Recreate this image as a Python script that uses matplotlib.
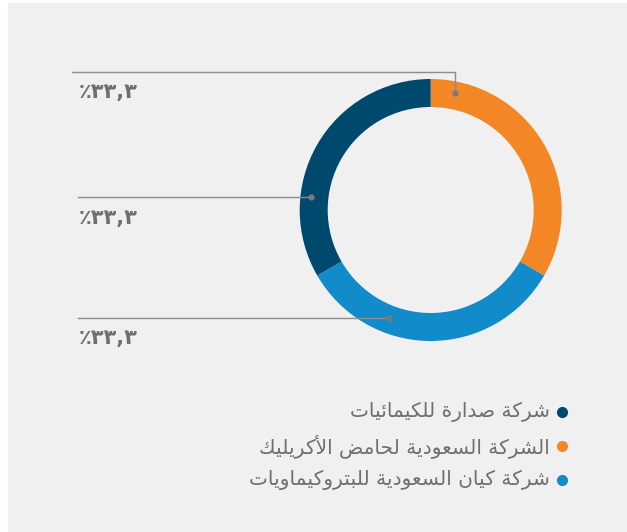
import matplotlib
matplotlib.use("Agg")
import matplotlib.pyplot as plt
from matplotlib.patches import Rectangle

W, H = 627, 532

companies = [
    "الشركة السعودية لحامض الأكريليك",
    "شركة كيان السعودية للبتروكيماويات",
    "شركة صدارة للكيمائيات",
]
shares = [33.3, 33.3, 33.3]
colors = ["#f38625", "#118bca", "#00496e"]
legend_order = [2, 0, 1]

# presentation forms: isolated, final, initial, medial
FORMS = {
    "ا": (0xFE8D, 0xFE8E), "أ": (0xFE83, 0xFE84), "د": (0xFEA9, 0xFEAA),
    "ر": (0xFEAD, 0xFEAE), "و": (0xFEED, 0xFEEE), "ة": (0xFE93, 0xFE94),
    "ب": (0xFE8F, 0xFE90, 0xFE91, 0xFE92), "ت": (0xFE95, 0xFE96, 0xFE97, 0xFE98),
    "ح": (0xFEA1, 0xFEA2, 0xFEA3, 0xFEA4), "س": (0xFEB1, 0xFEB2, 0xFEB3, 0xFEB4),
    "ش": (0xFEB5, 0xFEB6, 0xFEB7, 0xFEB8), "ص": (0xFEB9, 0xFEBA, 0xFEBB, 0xFEBC),
    "ض": (0xFEBD, 0xFEBE, 0xFEBF, 0xFEC0), "ع": (0xFEC9, 0xFECA, 0xFECB, 0xFECC),
    "ك": (0xFED9, 0xFEDA, 0xFEDB, 0xFEDC), "ل": (0xFEDD, 0xFEDE, 0xFEDF, 0xFEE0),
    "م": (0xFEE1, 0xFEE2, 0xFEE3, 0xFEE4), "ن": (0xFEE5, 0xFEE6, 0xFEE7, 0xFEE8),
    "ي": (0xFEF1, 0xFEF2, 0xFEF3, 0xFEF4), "ئ": (0xFE89, 0xFE8A, 0xFE8B, 0xFE8C),
    "لأ": (0xFEF7, 0xFEF8), "لا": (0xFEFB, 0xFEFC),
}


def shape(text):
    # merge lam-alef, then pick joined forms and reverse for display
    units = []
    i = 0
    while i < len(text):
        if text[i] == "ل" and i + 1 < len(text) and text[i:i + 2] in FORMS:
            units.append(text[i:i + 2])
            i += 2
        else:
            units.append(text[i])
            i += 1
    out = []
    for k, u in enumerate(units):
        if u not in FORMS:
            out.append(u)
            continue
        f = FORMS[u]
        prev = units[k - 1] if k > 0 else None
        nxt = units[k + 1] if k + 1 < len(units) else None
        jp = prev in FORMS and len(FORMS[prev]) == 4
        jn = len(f) == 4 and nxt in FORMS
        if jp and jn:
            c = f[3]
        elif jn:
            c = f[2]
        elif jp:
            c = f[1]
        else:
            c = f[0]
        out.append(chr(c))
    return "".join(out[::-1])


def pct_label(v):
    digits = "٠١٢٣٤٥٦٧٨٩"
    s = f"{v:.1f}".replace(".", ",")
    s = "".join(digits[int(ch)] if ch.isdigit() else ch for ch in s)
    return "٪" + s


fig = plt.figure(figsize=(W / 100, H / 100), dpi=100)
fig.patch.set_facecolor("white")
ax = fig.add_axes([0, 0, 1, 1])
ax.add_patch(Rectangle((8, 0), W, H - 3, color="#f0f0f0", zorder=0))

cx, cy = 430.7, H - 210
R, ring = 131, 28
ax.pie(shares, colors=colors, startangle=90, counterclock=False,
       center=(cx, cy), radius=R,
       wedgeprops=dict(width=ring, linewidth=0))

ax.set_xlim(0, W)
ax.set_ylim(0, H)
ax.set_aspect("equal")
ax.axis("off")

line_c = "#8c8c8c"
txt_c = "#6f6f71"
# leader: (line y, line start x, dot x, dot y, label y)
leaders = [
    (72, 72, 455, 93, 92),
    (197, 78, 311, 197, 218),
    (318, 78, 389, 318, 338),
]
for (ly, lx, dx, dy, ty), v in zip(leaders, shares):
    ax.plot([lx, dx, dx], [H - ly, H - ly, H - dy], color=line_c, lw=1.0, zorder=3)
    ax.plot(dx, H - dy, "o", ms=3.5, color="#7a7a7a", zorder=4)
    ax.text(79, H - ty, pct_label(v), fontsize=15, fontweight="bold",
            color=txt_c, ha="left", va="center", family="DejaVu Sans")

for row, idx in enumerate(legend_order):
    y = H - (412 + row * 34)
    ax.plot(561.7, y, "o", ms=7, color=colors[idx])
    ax.text(550, y, shape(companies[idx]), fontsize=14.5, color=txt_c,
            ha="right", va="center", family="DejaVu Sans")

fig.savefig("out.png", dpi=100, facecolor=fig.get_facecolor())
